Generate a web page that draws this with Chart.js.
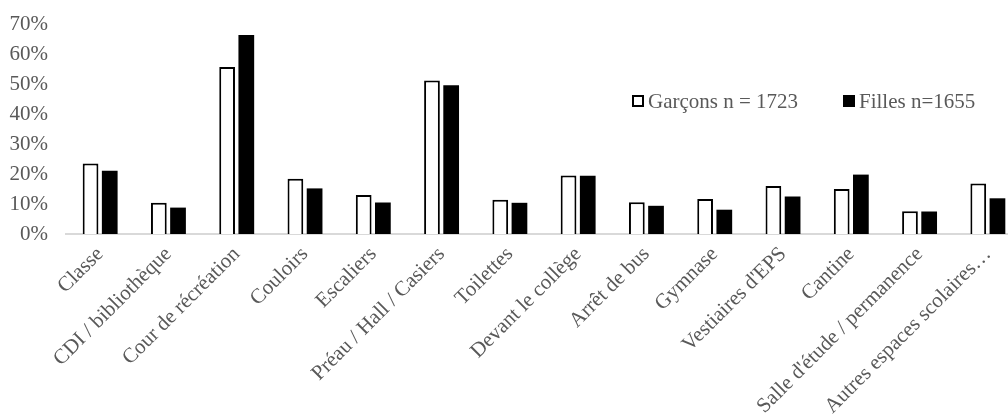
<!DOCTYPE html>
<html lang="fr">
<head>
<meta charset="utf-8">
<title>Lieux</title>
<script src="https://cdn.jsdelivr.net/npm/chart.js@4/dist/chart.umd.min.js"></script>
<style>
  html, body { margin: 0; padding: 0; background: #fff; overflow: hidden; }
  #wrap { width: 1022px; height: 419px; position: relative; }
</style>
</head>
<body>
<div id="wrap"><canvas id="c"></canvas></div>
<script>
// Lieux déclarés, en % des élèves
const categories = [
  'Classe', 'CDI / bibliothèque', 'Cour de récréation', 'Couloirs', 'Escaliers',
  'Préau / Hall / Casiers', 'Toilettes', 'Devant le collège', 'Arrêt de bus',
  'Gymnase', "Vestiaires d'EPS", 'Cantine', "Salle d'étude / permanence",
  'Autres espaces scolaires…'
];
const garcons = [23.5, 10.4, 55.7, 18.4, 13.0, 51.2, 11.4, 19.5, 10.6, 11.7, 16.0, 15.0, 7.6, 16.8];
const filles  = [21.1,  8.8, 66.3, 15.2, 10.5, 49.6, 10.4, 19.4,  9.4,  8.1, 12.5, 19.8, 7.5, 11.9];
const seriesNames = ['Garçons n = 1723', 'Filles n=1655'];
const yTicks = [0, 10, 20, 30, 40, 50, 60, 70];

const FONT = "'Liberation Serif', 'Times New Roman', serif";
const FONT_SIZE = 21;
const GREY = '#595959';

// Légende dessinée dans la zone du graphique
const inlineLegend = {
  id: 'inlineLegend',
  afterDraw(chart) {
    const ctx = chart.ctx;
    const y = 101;
    const items = [
      { x: 632, ds: chart.data.datasets[0] },
      { x: 843, ds: chart.data.datasets[1] }
    ];
    ctx.save();
    ctx.font = FONT_SIZE + 'px ' + FONT;
    ctx.textBaseline = 'middle';
    items.forEach(it => {
      ctx.fillStyle = it.ds.backgroundColor;
      ctx.fillRect(it.x, y - 6, 12, 12);
      ctx.lineWidth = 2;
      ctx.strokeStyle = '#000';
      ctx.strokeRect(it.x + 1, y - 5, 10, 10);
      ctx.fillStyle = GREY;
      ctx.fillText(it.ds.label, it.x + 16, y + 1);
    });
    ctx.restore();
  }
};

new Chart(document.getElementById('c'), {
  type: 'bar',
  data: {
    labels: categories,
    datasets: [
      {
        label: seriesNames[0],
        data: garcons,
        backgroundColor: '#ffffff',
        borderColor: '#000000',
        borderWidth: 2,
        categoryPercentage: 0.562,
        barPercentage: 0.82
      },
      {
        label: seriesNames[1],
        data: filles,
        backgroundColor: '#000000',
        borderColor: '#000000',
        borderWidth: 0,
        categoryPercentage: 0.562,
        barPercentage: 0.82
      }
    ]
  },
  options: {
    responsive: true,
    maintainAspectRatio: false,
    animation: false,
    layout: { padding: { top: 24, left: 0, right: 0, bottom: 0 } },
    plugins: {
      legend: { display: false },
      tooltip: { enabled: false }
    },
    scales: {
      x: {
        grid: { display: false, drawTicks: false },
        border: { display: true, color: '#d9d9d9', width: 2 },
        ticks: {
          color: GREY,
          font: { family: FONT, size: FONT_SIZE },
          minRotation: 45,
          maxRotation: 45,
          autoSkip: false,
          padding: 8
        },
        afterFit(scale) {
          scale.height = 185;
          scale.paddingLeft = 0;
          scale.paddingRight = 0;
        }
      },
      y: {
        min: 0,
        max: 70,
        afterBuildTicks(scale) {
          scale.ticks = yTicks.map(v => ({ value: v }));
        },
        grid: { display: false, drawTicks: false },
        border: { display: false },
        ticks: {
          color: GREY,
          font: { family: FONT, size: FONT_SIZE },
          padding: 18,
          callback: v => v + '%'
        },
        afterFit(scale) {
          scale.width = 66;
          scale.paddingTop = 0;
          scale.paddingBottom = 0;
        }
      }
    }
  },
  plugins: [inlineLegend]
});
</script>
</body>
</html>
